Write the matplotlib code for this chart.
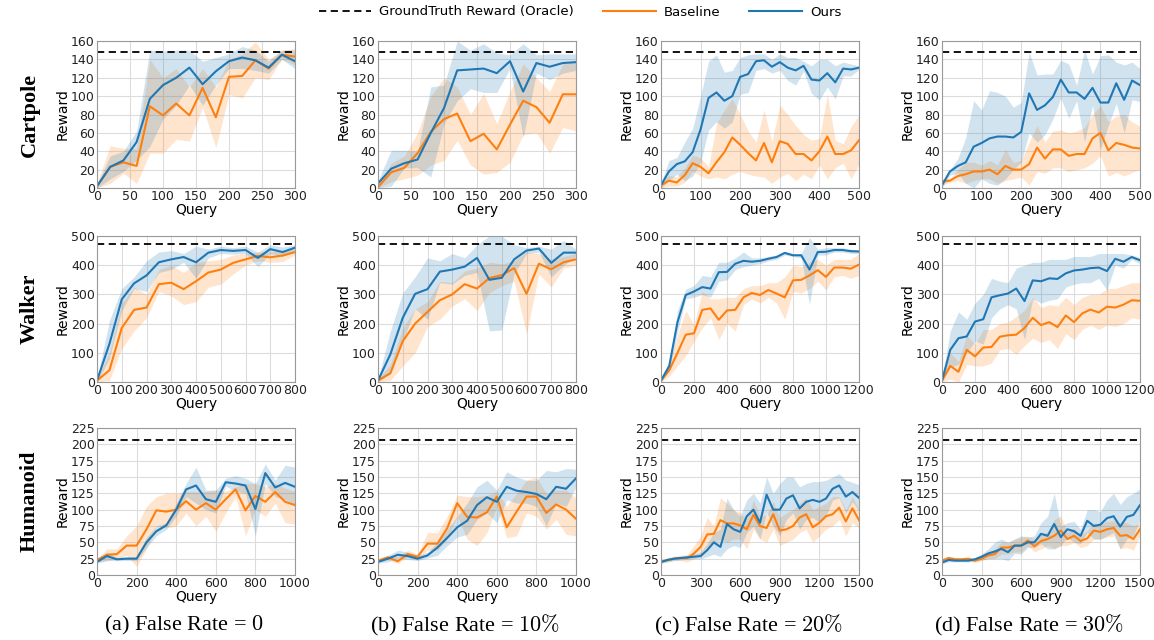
import numpy as np
import matplotlib
matplotlib.use("Agg")
import matplotlib.pyplot as plt
from matplotlib.lines import Line2D

# ---------------- data ----------------
oracle = [148, 472, 206]  # Cartpole, Walker, Humanoid
envs = ["Cartpole", "Walker", "Humanoid"]
captions = [r"(a) False Rate = $0$", r"(b) False Rate = $10\%$",
            r"(c) False Rate = $20\%$", r"(d) False Rate = $30\%$"]

q_cp_short = list(range(0, 301, 20))
q_cp_long = list(range(0, 501, 20))
q_wk_short = list(range(0, 801, 50))
q_wk_long = list(range(0, 1201, 50))
q_hu_short = list(range(0, 1001, 50))
q_hu_long = list(range(0, 1501, 50))

# Cartpole, FR=0
cp0_ours = [2, 23, 30, 50, 97, 112, 120, 131, 113, 127, 138, 142, 139, 131, 145, 138]
cp0_ours_hi = [4, 35, 40, 62, 150, 149, 150, 150, 138, 142, 146, 154, 150, 138, 150, 150]
cp0_ours_lo = [0, 10, 18, 30, 45, 75, 90, 112, 90, 112, 130, 130, 128, 125, 140, 130]
cp0_base = [2, 23, 28, 24, 89, 79, 92, 79, 109, 77, 121, 122, 139, 130, 145, 143]
cp0_base_hi = [5, 46, 43, 43, 140, 120, 130, 110, 130, 110, 140, 146, 159, 140, 150, 152]
cp0_base_lo = [0, 5, 16, 5, 38, 38, 53, 51, 88, 44, 102, 98, 120, 118, 140, 134]

# Cartpole, FR=10%
cp1_ours = [5, 21, 27, 31, 60, 87, 128, 129, 130, 125, 138, 105, 136, 132, 136, 137]
cp1_ours_hi = [8, 41, 41, 40, 110, 112, 160, 150, 157, 147, 145, 157, 145, 146, 146, 146]
cp1_ours_lo = [0, 2, 22, 22, 12, 70, 95, 108, 104, 104, 130, 55, 125, 118, 125, 128]
cp1_base = [1, 17, 22, 38, 61, 75, 81, 51, 59, 42, 69, 95, 88, 71, 102, 102]
cp1_base_hi = [3, 27, 35, 60, 100, 120, 110, 80, 103, 70, 105, 135, 120, 105, 135, 138]
cp1_base_lo = [0, 7, 10, 14, 25, 30, 52, 25, 15, 17, 28, 58, 60, 38, 66, 62]

# Cartpole, FR=20%
cp2_ours = [3, 18, 26, 29, 39, 64, 98, 104, 95, 100, 121, 124, 138, 139, 132, 137, 131, 128, 133, 118, 117, 125, 115, 130, 129, 131]
cp2_ours_hi = [5, 30, 33, 50, 65, 100, 138, 145, 126, 128, 142, 145, 146, 146, 140, 146, 142, 142, 138, 133, 140, 140, 133, 137, 135, 133]
cp2_ours_lo = [0, 8, 15, 8, 13, 28, 63, 72, 65, 72, 102, 104, 128, 130, 125, 128, 117, 112, 127, 103, 96, 110, 97, 122, 122, 129]
cp2_base = [3, 8, 6, 14, 27, 23, 16, 28, 39, 55, 47, 38, 30, 49, 28, 51, 48, 37, 37, 30, 40, 56, 37, 37, 41, 52]
cp2_base_hi = [6, 14, 12, 22, 36, 33, 23, 70, 85, 97, 80, 62, 50, 85, 50, 90, 80, 68, 58, 52, 54, 102, 52, 48, 67, 79]
cp2_base_lo = [0, 2, 2, 6, 18, 13, 10, 12, 10, 15, 18, 15, 13, 12, 5, 12, 16, 8, 15, 10, 25, 10, 22, 27, 10, 26]

# Cartpole, FR=30%
cp3_ours = [3, 18, 24, 28, 45, 49, 54, 56, 56, 55, 61, 103, 85, 90, 99, 118, 104, 104, 97, 109, 93, 93, 114, 96, 117, 112]
cp3_ours_hi = [6, 20, 32, 55, 95, 85, 106, 104, 100, 88, 93, 148, 123, 124, 124, 139, 135, 112, 150, 124, 144, 145, 137, 134, 137, 130]
cp3_ours_lo = [0, 14, 16, 5, 0, 10, 5, 3, 10, 20, 28, 60, 50, 58, 75, 98, 76, 95, 50, 90, 42, 68, 92, 60, 96, 94]
cp3_base = [7, 8, 13, 15, 18, 18, 20, 15, 24, 20, 20, 26, 44, 32, 42, 42, 35, 37, 37, 54, 60, 41, 49, 47, 44, 43]
cp3_base_hi = [10, 10, 20, 28, 28, 25, 30, 25, 42, 28, 30, 50, 68, 50, 62, 63, 60, 62, 66, 80, 90, 72, 78, 80, 72, 67]
cp3_base_lo = [3, 6, 8, 5, 8, 10, 10, 5, 8, 10, 12, 3, 18, 16, 22, 22, 18, 20, 22, 27, 35, 13, 17, 13, 17, 20]

# Walker, FR=0
wk0_ours = [5, 130, 283, 338, 365, 410, 420, 428, 410, 443, 452, 449, 452, 425, 455, 445, 460]
wk0_ours_hi = [10, 210, 320, 360, 415, 445, 450, 440, 465, 455, 465, 460, 465, 445, 470, 462, 470]
wk0_ours_lo = [0, 80, 245, 320, 310, 375, 385, 410, 355, 425, 440, 438, 440, 395, 440, 430, 452]
wk0_base = [5, 40, 185, 247, 255, 335, 340, 318, 345, 375, 385, 408, 420, 432, 427, 433, 445]
wk0_base_hi = [10, 100, 270, 325, 300, 385, 400, 375, 410, 415, 420, 435, 440, 445, 445, 450, 455]
wk0_base_lo = [0, 5, 115, 175, 220, 310, 295, 265, 275, 325, 335, 370, 400, 415, 410, 412, 435]

# Walker, FR=10%
wk1_ours = [5, 95, 220, 302, 318, 378, 385, 395, 425, 350, 357, 420, 450, 457, 408, 443, 443]
wk1_ours_hi = [10, 175, 305, 360, 425, 415, 440, 425, 470, 500, 500, 470, 460, 465, 455, 485, 455]
wk1_ours_lo = [0, 30, 140, 250, 215, 340, 335, 365, 375, 175, 178, 370, 440, 445, 360, 400, 430]
wk1_base = [5, 30, 140, 200, 240, 280, 300, 335, 320, 356, 366, 390, 302, 405, 386, 410, 420]
wk1_base_hi = [10, 60, 185, 250, 275, 345, 340, 380, 390, 410, 405, 415, 445, 440, 420, 430, 440]
wk1_base_lo = [0, 5, 55, 100, 190, 215, 260, 285, 245, 305, 330, 345, 165, 370, 325, 390, 400]

# Walker, FR=20%
wk2_ours = [5, 55, 205, 298, 310, 325, 320, 376, 377, 405, 415, 412, 415, 422, 428, 442, 434, 434, 385, 445, 446, 452, 452, 448, 447]
wk2_ours_hi = [10, 70, 245, 318, 330, 365, 360, 410, 410, 425, 445, 425, 425, 430, 435, 448, 438, 440, 495, 455, 460, 460, 460, 455, 452]
wk2_ours_lo = [0, 40, 170, 285, 290, 300, 290, 345, 350, 385, 395, 400, 405, 415, 420, 435, 430, 425, 265, 435, 435, 445, 445, 440, 440]
wk2_base = [5, 40, 100, 162, 167, 247, 252, 213, 245, 247, 290, 305, 298, 315, 303, 290, 348, 350, 365, 383, 360, 392, 392, 388, 402]
wk2_base_hi = [10, 60, 160, 245, 195, 310, 285, 285, 290, 290, 320, 330, 330, 340, 340, 360, 400, 395, 410, 420, 400, 420, 420, 420, 440]
wk2_base_lo = [0, 20, 55, 90, 140, 185, 220, 145, 200, 175, 265, 285, 270, 290, 270, 215, 310, 305, 320, 345, 315, 360, 365, 355, 365]

# Walker, FR=30%
wk3_ours = [5, 110, 150, 156, 207, 215, 290, 297, 303, 320, 277, 348, 345, 355, 353, 372, 382, 385, 390, 392, 380, 422, 412, 428, 417]
wk3_ours_hi = [10, 175, 240, 215, 270, 300, 355, 345, 340, 390, 400, 410, 410, 420, 420, 420, 430, 430, 430, 440, 440, 440, 440, 435, 425]
wk3_ours_lo = [0, 50, 60, 100, 140, 130, 220, 250, 265, 250, 145, 285, 270, 280, 285, 325, 335, 340, 340, 355, 315, 400, 390, 420, 405]
wk3_base = [5, 55, 35, 110, 88, 118, 120, 155, 160, 162, 185, 220, 195, 205, 188, 228, 205, 235, 248, 238, 258, 255, 265, 280, 278]
wk3_base_hi = [10, 100, 70, 160, 130, 180, 180, 200, 205, 225, 245, 290, 255, 265, 260, 290, 265, 290, 300, 300, 320, 320, 330, 340, 340]
wk3_base_lo = [0, 10, 0, 60, 55, 55, 65, 110, 115, 95, 125, 150, 135, 145, 115, 165, 145, 180, 195, 180, 195, 190, 200, 220, 215]

# Humanoid, FR=0
hu0_ours = [20, 29, 24, 25, 25, 50, 67, 76, 100, 131, 137, 116, 112, 142, 140, 137, 101, 156, 134, 141, 135]
hu0_ours_hi = [22, 35, 27, 28, 28, 58, 75, 80, 110, 140, 165, 130, 130, 148, 152, 148, 140, 170, 145, 168, 165]
hu0_ours_lo = [18, 22, 22, 22, 22, 42, 60, 70, 90, 120, 110, 100, 95, 136, 128, 125, 60, 140, 120, 115, 108]
hu0_base = [23, 31, 32, 45, 45, 70, 99, 97, 100, 113, 100, 110, 100, 116, 131, 99, 121, 112, 127, 112, 107]
hu0_base_hi = [25, 40, 40, 60, 75, 105, 120, 125, 125, 128, 127, 128, 130, 128, 135, 140, 140, 135, 140, 133, 128]
hu0_base_lo = [20, 22, 25, 30, 13, 40, 75, 72, 75, 95, 75, 90, 67, 95, 120, 60, 100, 90, 110, 80, 78]

# Humanoid, FR=10%
hu1_ours = [20, 25, 31, 29, 25, 30, 42, 57, 73, 83, 107, 119, 112, 135, 129, 127, 124, 116, 135, 132, 148]
hu1_ours_hi = [22, 30, 38, 35, 30, 35, 50, 70, 90, 110, 135, 145, 130, 158, 150, 145, 145, 160, 158, 163, 162]
hu1_ours_lo = [18, 20, 26, 24, 22, 26, 30, 45, 58, 62, 85, 95, 80, 115, 110, 110, 105, 75, 110, 105, 135]
hu1_base = [22, 27, 21, 32, 28, 48, 48, 72, 110, 89, 88, 96, 120, 73, 97, 120, 120, 95, 108, 100, 86]
hu1_base_hi = [25, 30, 28, 38, 32, 65, 65, 90, 122, 120, 120, 122, 128, 105, 125, 145, 150, 125, 130, 130, 118]
hu1_base_lo = [20, 23, 18, 27, 24, 38, 38, 55, 90, 55, 45, 65, 105, 57, 60, 95, 90, 70, 85, 62, 60]

# Humanoid, FR=20%
hu2_ours = [20, 23, 25, 26, 27, 28, 29, 38, 50, 43, 78, 70, 66, 90, 100, 80, 123, 100, 100, 117, 122, 102, 112, 115, 112, 117, 132, 137, 120, 127, 118]
hu2_ours_hi = [22, 26, 28, 29, 30, 32, 35, 48, 65, 70, 118, 100, 90, 115, 125, 110, 150, 125, 140, 150, 150, 135, 140, 143, 143, 145, 150, 155, 145, 142, 138]
hu2_ours_lo = [18, 20, 22, 23, 24, 25, 25, 28, 32, 28, 40, 45, 42, 65, 75, 55, 95, 75, 60, 85, 95, 70, 85, 88, 80, 90, 115, 118, 95, 112, 98]
hu2_base = [20, 23, 25, 26, 26, 33, 43, 62, 63, 84, 79, 79, 76, 70, 92, 75, 72, 93, 68, 70, 75, 88, 93, 73, 80, 90, 93, 103, 82, 102, 84]
hu2_base_hi = [22, 26, 29, 30, 32, 45, 60, 88, 75, 118, 110, 100, 95, 85, 115, 90, 92, 112, 88, 95, 100, 110, 118, 100, 105, 110, 120, 120, 100, 120, 100]
hu2_base_lo = [18, 20, 22, 22, 20, 25, 30, 40, 50, 55, 50, 55, 55, 40, 70, 55, 50, 70, 45, 50, 55, 65, 70, 50, 60, 70, 75, 85, 60, 80, 72]

# Humanoid, FR=30%
hu3_ours = [19, 23, 22, 22, 22, 24, 28, 33, 36, 40, 35, 45, 45, 50, 50, 63, 60, 78, 58, 70, 67, 60, 83, 75, 77, 87, 90, 74, 89, 92, 107]
hu3_ours_hi = [21, 25, 25, 25, 25, 27, 32, 40, 50, 55, 50, 55, 60, 58, 60, 80, 90, 125, 75, 80, 82, 70, 100, 100, 97, 115, 125, 108, 120, 125, 132]
hu3_ours_lo = [17, 20, 20, 20, 20, 21, 23, 25, 25, 25, 22, 33, 32, 42, 42, 48, 40, 40, 45, 58, 50, 48, 65, 55, 55, 60, 65, 40, 55, 60, 85]
hu3_base = [22, 26, 24, 24, 25, 22, 25, 30, 32, 42, 42, 45, 45, 53, 44, 52, 55, 60, 68, 55, 60, 52, 56, 68, 66, 70, 72, 60, 61, 55, 70]
hu3_base_hi = [25, 29, 27, 27, 27, 25, 28, 35, 40, 50, 50, 55, 58, 60, 55, 65, 65, 85, 90, 65, 72, 62, 67, 80, 78, 82, 83, 80, 80, 75, 80]
hu3_base_lo = [19, 23, 21, 21, 22, 19, 22, 25, 25, 32, 32, 35, 35, 45, 35, 40, 45, 40, 45, 45, 50, 42, 45, 55, 55, 58, 60, 40, 42, 38, 60]

panels = [
    [(q_cp_short, cp0_ours, cp0_ours_lo, cp0_ours_hi, cp0_base, cp0_base_lo, cp0_base_hi),
     (q_cp_short, cp1_ours, cp1_ours_lo, cp1_ours_hi, cp1_base, cp1_base_lo, cp1_base_hi),
     (q_cp_long, cp2_ours, cp2_ours_lo, cp2_ours_hi, cp2_base, cp2_base_lo, cp2_base_hi),
     (q_cp_long, cp3_ours, cp3_ours_lo, cp3_ours_hi, cp3_base, cp3_base_lo, cp3_base_hi)],
    [(q_wk_short, wk0_ours, wk0_ours_lo, wk0_ours_hi, wk0_base, wk0_base_lo, wk0_base_hi),
     (q_wk_short, wk1_ours, wk1_ours_lo, wk1_ours_hi, wk1_base, wk1_base_lo, wk1_base_hi),
     (q_wk_long, wk2_ours, wk2_ours_lo, wk2_ours_hi, wk2_base, wk2_base_lo, wk2_base_hi),
     (q_wk_long, wk3_ours, wk3_ours_lo, wk3_ours_hi, wk3_base, wk3_base_lo, wk3_base_hi)],
    [(q_hu_short, hu0_ours, hu0_ours_lo, hu0_ours_hi, hu0_base, hu0_base_lo, hu0_base_hi),
     (q_hu_short, hu1_ours, hu1_ours_lo, hu1_ours_hi, hu1_base, hu1_base_lo, hu1_base_hi),
     (q_hu_long, hu2_ours, hu2_ours_lo, hu2_ours_hi, hu2_base, hu2_base_lo, hu2_base_hi),
     (q_hu_long, hu3_ours, hu3_ours_lo, hu3_ours_hi, hu3_base, hu3_base_lo, hu3_base_hi)],
]

ylims = [(0, 160, 20), (0, 500, 100), (0, 225, 25)]
xticks = [[(300, 50), (300, 50), (500, 100), (500, 100)],
          [(800, 100), (800, 100), (1200, 200), (1200, 200)],
          [(1000, 200), (1000, 200), (1500, 300), (1500, 300)]]

# ---------------- style ----------------
BLUE = "#1f77b4"
ORANGE = "#ff7f0e"
plt.rcParams["mathtext.fontset"] = "cm"

fig = plt.figure(figsize=(11.54, 6.40), dpi=100)

col_left = [97, 378, 661, 942]
ax_w = 198
row_top = [41, 236, 428]
row_h = [147, 146, 147]
W, H = 1154, 640

for r in range(3):
    for c in range(4):
        x0 = col_left[c] / W
        y0 = 1 - (row_top[r] + row_h[r]) / H
        ax = fig.add_axes([x0, y0, ax_w / W, row_h[r] / H])
        q, o, olo, ohi, b, blo, bhi = panels[r][c]
        ax.fill_between(q, blo, bhi, color=ORANGE, alpha=0.2, lw=0)
        ax.fill_between(q, olo, ohi, color=BLUE, alpha=0.2, lw=0)
        ax.plot(q, b, color=ORANGE, lw=1.5)
        ax.plot(q, o, color=BLUE, lw=1.5)
        ax.axhline(oracle[r], color="black", ls="--", lw=1.3, dashes=(4, 2.5))
        xmax, xs = xticks[r][c]
        ax.set_xlim(0, xmax)
        ax.set_xticks(np.arange(0, xmax + 1, xs))
        lo, hi, st = ylims[r]
        ax.set_ylim(lo, hi)
        ax.set_yticks(np.arange(lo, hi + 1, st))
        ax.grid(True, color="#dcdcdc", lw=0.8)
        ax.set_axisbelow(True)
        for s in ax.spines.values():
            s.set_color("#999999")
            s.set_linewidth(0.8)
        ax.tick_params(labelsize=9, length=0, pad=1.5, colors="#222222")
        ax.set_xlabel("Query", fontsize=10, labelpad=0)
        ax.set_ylabel("Reward", fontsize=10, labelpad=1)
        if c == 0:
            fig.text(30 / W, 1 - (row_top[r] + row_h[r] / 2) / H, envs[r],
                     rotation=90, ha="center", va="center",
                     fontsize=16, fontweight="bold", family="Liberation Serif")
        if r == 2:
            fig.text((col_left[c] + ax_w / 2 - 12) / W, 1 - 625 / H, captions[c],
                     ha="center", va="center", fontsize=16,
                     family="Liberation Serif")

handles = [Line2D([], [], color="black", ls="--", lw=1.3, dashes=(4, 2.5)),
           Line2D([], [], color=ORANGE, lw=1.5),
           Line2D([], [], color=BLUE, lw=1.5)]
fig.legend(handles, ["GroundTruth Reward (Oracle)", "Baseline", "Ours"],
           loc="center", bbox_to_anchor=(580 / W, 1 - 12 / H), ncol=3,
           frameon=False, fontsize=9.5, handlelength=4, handletextpad=0.6,
           columnspacing=2.2)

fig.savefig("out.png", dpi=100)
